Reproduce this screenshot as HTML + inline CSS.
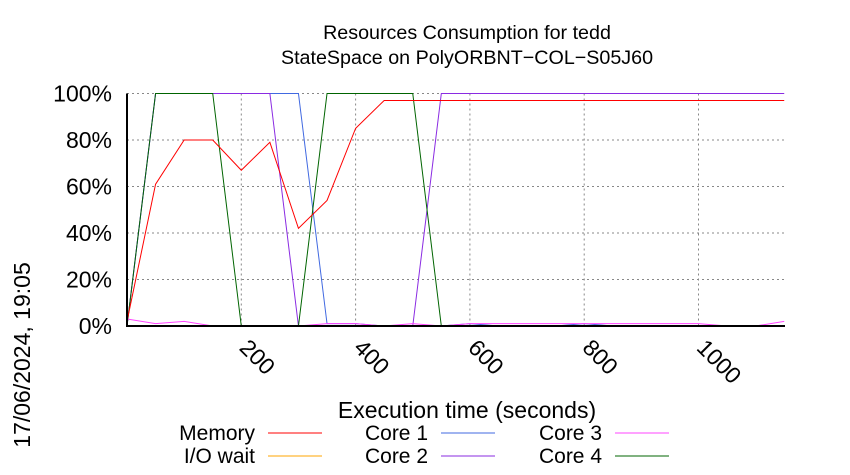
<!DOCTYPE html>
<html><head><meta charset="utf-8"><style>
html,body{margin:0;padding:0;background:#fff;}
svg{display:block;font-family:"Liberation Sans",sans-serif;}
</style></head><body>
<svg id="chart" width="850" height="475" viewBox="0 0 850 475">
<text x="467" y="39" font-size="19.7" text-anchor="middle">Resources Consumption for tedd</text>
<text x="467" y="64" font-size="19.7" text-anchor="middle">StateSpace on PolyORBNT−COL−S05J60</text>
<text transform="translate(30,355) rotate(-90)" font-size="23" text-anchor="middle">17/06/2024, 19:05</text>
<text x="467" y="418" font-size="23" text-anchor="middle">Execution time (seconds)</text>
<g id="grid"></g>
<g id="series"></g>
<g id="axes"></g>
<g id="legend"></g>
</svg>
<script>
const times = [0,50,100,150,200,250,300,350,400,450,500,550,600,650,700,750,800,850,900,950,1000,1050,1100,1150];
const memory = [2,61,80,80,67,79,42,54,85,97,97,97,97,97,97,97,97,97,97,97,97,97,97,97];
const ioWait = [0,0,0,0,0,0,0,0,0,0,0,0,0,0,0,0,0,0,0,0,0,0,0,0];
const core1 = [0,100,100,100,100,100,100,1,1,0,0,0,1,0,0,0,1,0,0,0,0,0,0,0];
const core2 = [0,100,100,100,100,100,0,0,0,0,0,100,100,100,100,100,100,100,100,100,100,100,100,100];
const core3 = [3,1,2,0,0,0,0,1,1,0,1,0,1,1,1,1,1,1,1,1,1,0,0,2];
const core4 = [0,100,100,100,0,0,0,100,100,100,100,0,0,0,0,0,0,0,0,0,0,0,0,0];
const xTicks = [200,400,600,800,1000];
const yTicks = [0,20,40,60,80,100];
const seriesNames = ["Memory","I/O wait","Core 1","Core 2","Core 3","Core 4"];

const NS="http://www.w3.org/2000/svg";
const X0=127, XS=0.5715, Y0=326, YS=2.325, XR=785;
const xs=t=>X0+t*XS, ys=v=>Y0-v*YS;
function mk(tag,attrs,parent){const e=document.createElementNS(NS,tag);for(const k in attrs)e.setAttribute(k,attrs[k]);parent.appendChild(e);return e;}
const grid=document.getElementById('grid'), axes=document.getElementById('axes'), ser=document.getElementById('series'), leg=document.getElementById('legend');
yTicks.forEach(v=>{
  if(v>0){const l=mk('line',{x1:X0,x2:XR,y1:ys(v),y2:ys(v),stroke:'#888','stroke-width':1,'stroke-dasharray':'2,3'},grid);
  
  }
  const t=mk('text',{x:112,y:ys(v)+8,'font-size':23,'text-anchor':'end'},axes);
  t.textContent=v+'%';
  
  
});
xTicks.forEach(v=>{
  const l=mk('line',{x1:xs(v),x2:xs(v),y1:ys(100),y2:Y0,stroke:'#888','stroke-width':1,'stroke-dasharray':'2,3'},grid);
  
  
  const t=mk('text',{transform:`translate(${xs(v)-3},${Y0+23}) rotate(45)`,'font-size':23},axes);
  t.textContent=v;
  
  
});
const colors=['#ff0000','#ffa500','#4169e1','#8a2be2','#ff44ff','#006400'];
const data=[memory,ioWait,core1,core2,core3,core4];
const order=[1,2,3,5,4,0];
order.forEach(i=>{
  const p=mk('polyline',{points:data[i].map((v,j)=>xs(times[j])+','+ys(v)).join(' '),fill:'none',stroke:colors[i],'stroke-width':1},ser);
  
  
});
const al=mk('path',{d:`M${X0},${ys(100)}V${Y0}H${XR}`,fill:'none',stroke:'#000','stroke-width':2},axes);


const lx=[255,428,602], ly=[433,456];
const pos=[[0,0],[0,1],[1,0],[1,1],[2,0],[2,1]];
seriesNames.forEach((n,i)=>{
  const [c,r]=pos[i];
  const t=mk('text',{x:lx[c],y:ly[r]+7,'font-size':21,'text-anchor':'end'},leg);
  t.textContent=n;
  
  
  const l=mk('line',{x1:lx[c]+13,x2:lx[c]+67,y1:ly[r],y2:ly[r],stroke:colors[i],'stroke-width':1},leg);
  
  
});
</script>
</body></html>
